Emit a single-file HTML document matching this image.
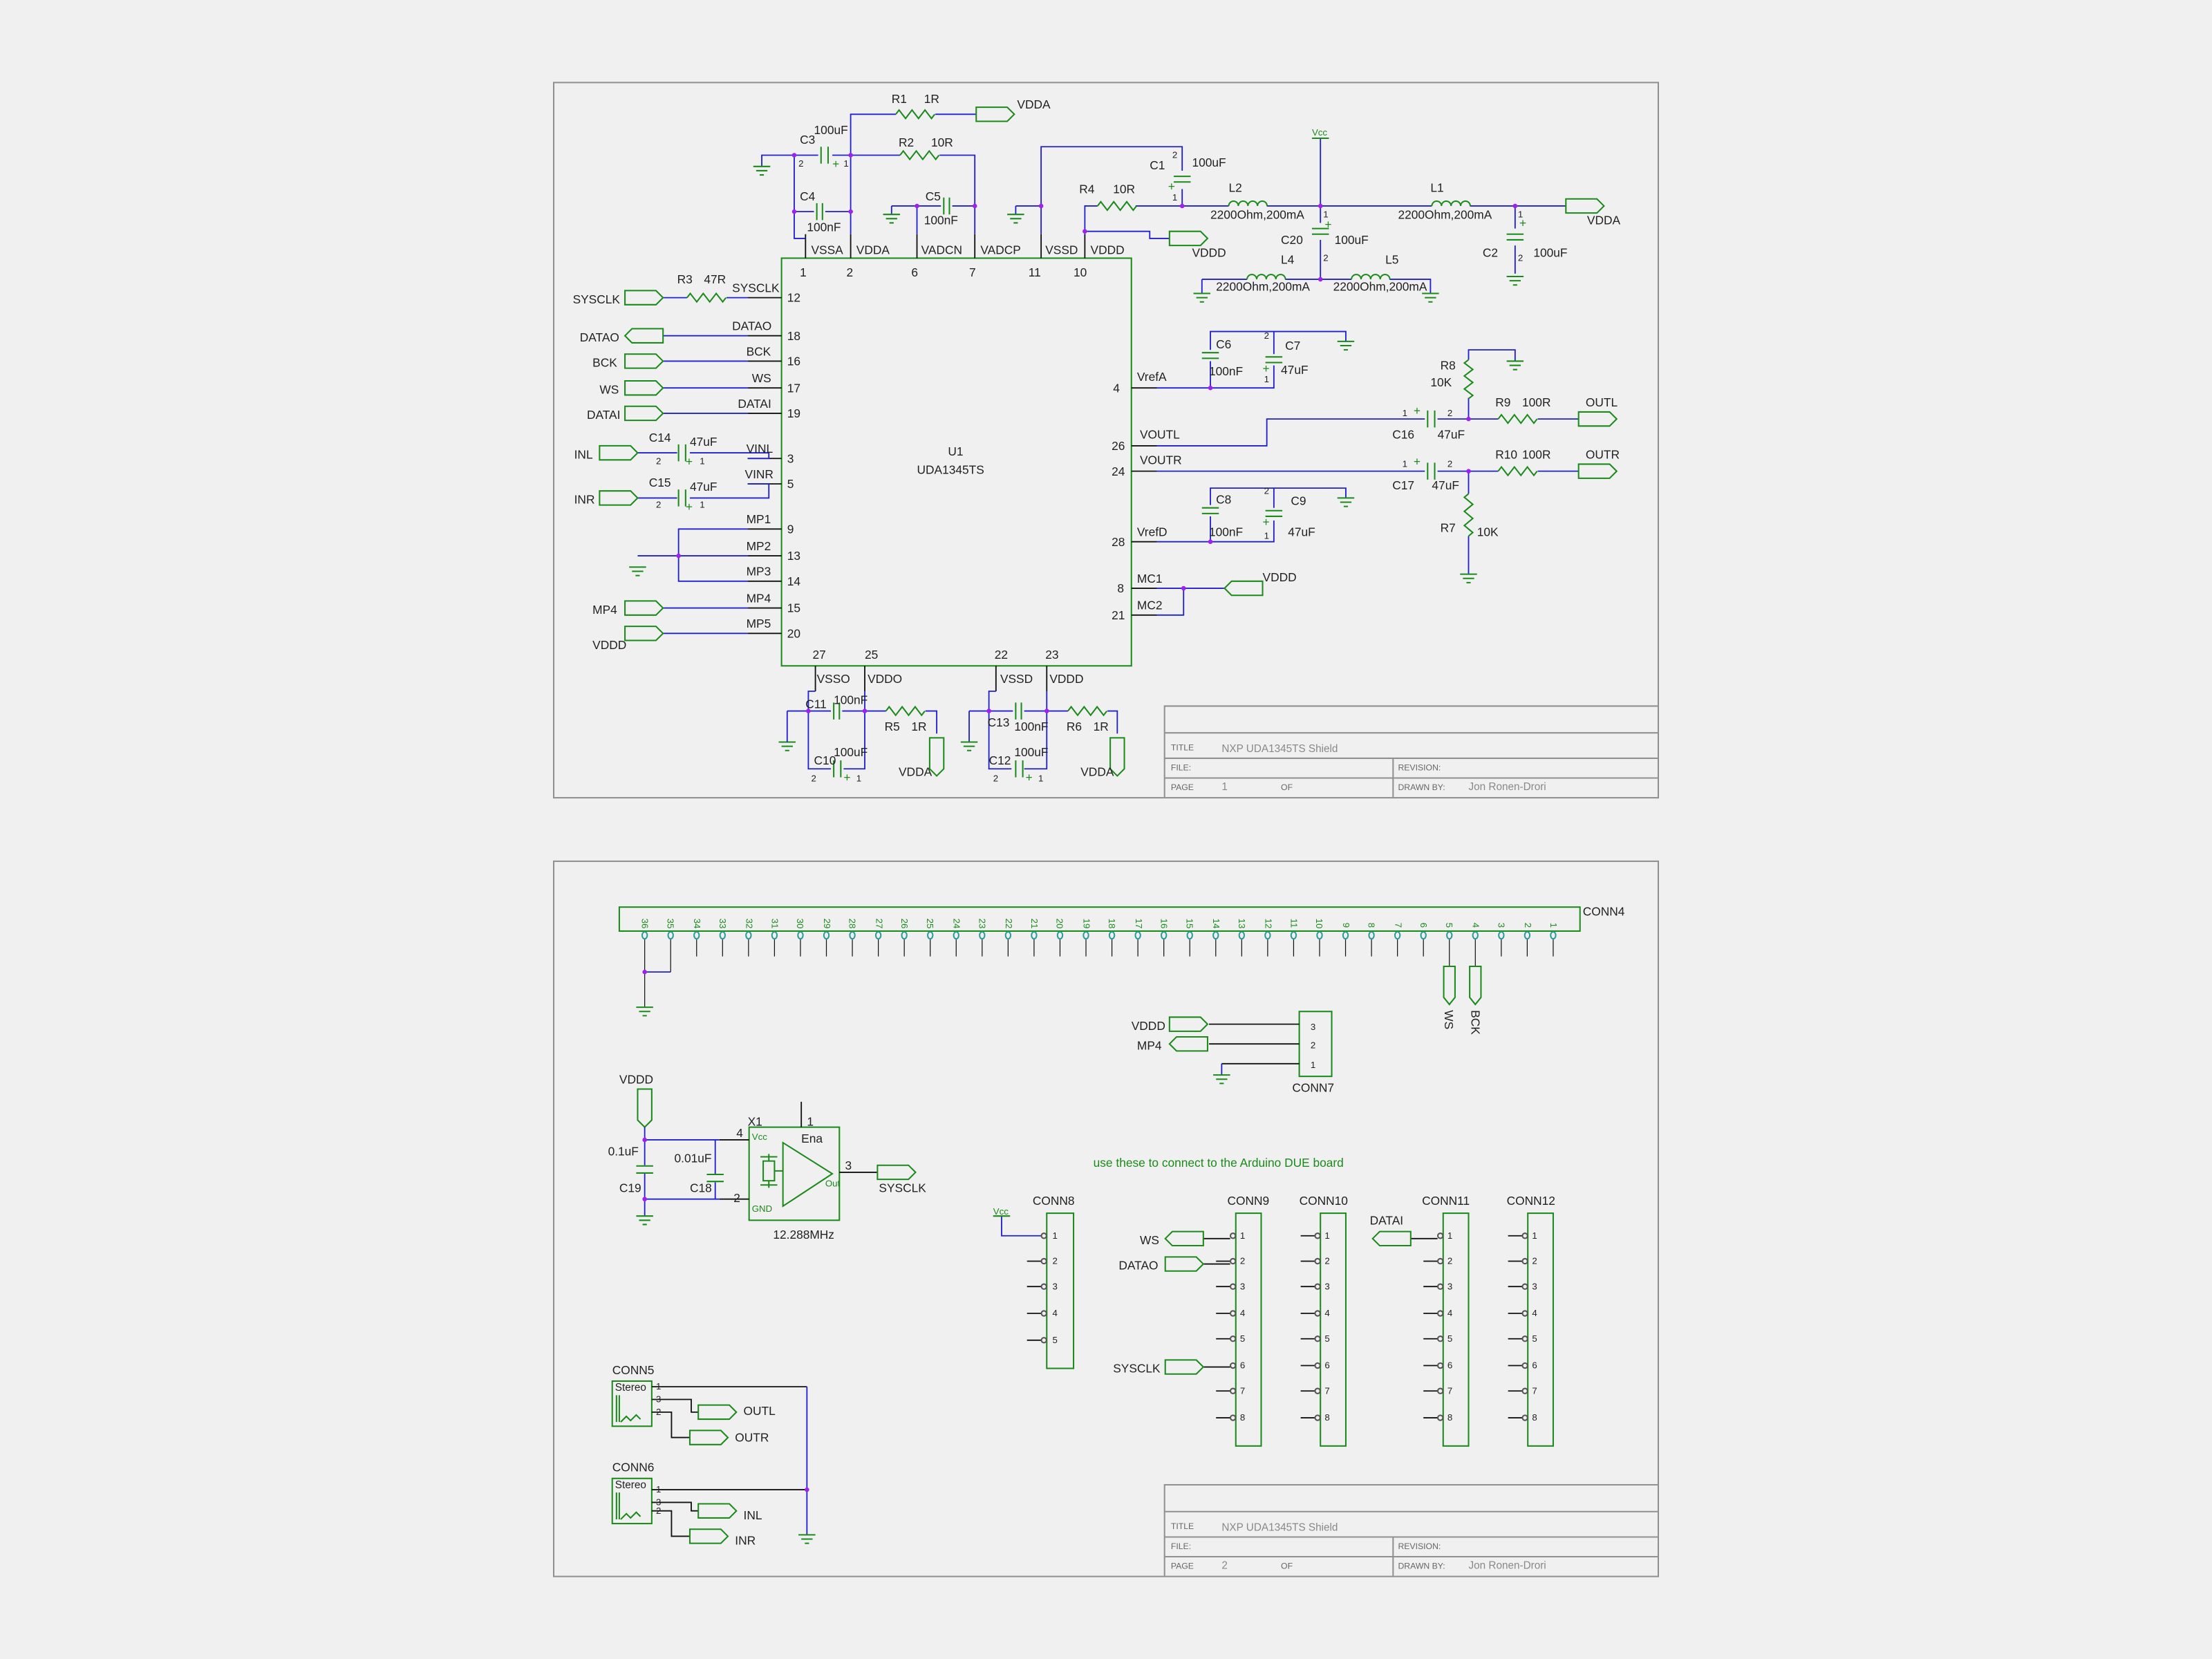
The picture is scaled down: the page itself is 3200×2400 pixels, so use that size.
<!DOCTYPE html>
<html><head><meta charset="utf-8"><style>
html,body{margin:0;padding:0;background:#f0f0f0;}
svg{display:block}
text{font-family:"Liberation Sans",sans-serif;font-size:8.5px;fill:#222}
.s{font-size:6.5px}
.g{fill:none;stroke:#1a8a1a;stroke-width:1}
.b{fill:none;stroke:#2020d0;stroke-width:0.9}
.k{fill:none;stroke:#111;stroke-width:0.9}
.f{fill:none;stroke:#909090;stroke-width:1}
.gt{fill:#1a8a1a}
.tb{fill:#888;font-size:7.5px}
.tl{fill:#666;font-size:6px}
</style></head><body>
<svg width="3200" height="2400" viewBox="0 0 1568 1176" xmlns="http://www.w3.org/2000/svg">
<rect width="1568" height="1176" fill="#f0f0f0"/>
<defs>
<path id="gnd" d="M-6 0h12M-4 3h8M-1.5 6h3" class="g"/>
<path id="rh" d="M0 0l2.3 -3l4.6 6l4.6 -6l4.6 6l4.6 -6l4.6 6l2.3 -3" class="g"/>
<path id="rv" d="M0 0l-3 2.3l6 4.6l-6 4.6l6 4.6l-6 4.6l6 4.6l-3 2.3" class="g"/>
<path id="lh" d="M0 0a3.4 3.4 0 0 1 6.8 0a3.4 3.4 0 0 1 6.8 0a3.4 3.4 0 0 1 6.8 0a3.4 3.4 0 0 1 6.8 0" class="g"/>
<path id="ch" d="M-2 -6v12M2 -6v12" class="g"/>
<path id="cv" d="M-6 -2h12M-6 2h12" class="g"/>
<path id="fr" d="M0 -5h22l5 5l-5 5h-22z" class="g"/>
<path id="fl" d="M5 -5h22v10h-22l-5 -5z" class="g"/>
<path id="fd" d="M-5 0v22l5 5l5 -5v-22z" class="g"/>
<circle id="d" r="1.6" fill="#a020f0"/>
</defs>

<!-- frames -->
<rect x="392.5" y="58.5" width="783" height="507" class="f"/>
<path d="M825.5 565V500.5H1175M825.5 519.5H1175M825.5 537.5H1175M825.5 551.5H1175M987.5 537.5V565" class="f"/>
<text x="830" y="532" class="tl">TITLE</text><text x="866" y="533" class="tb">NXP UDA1345TS Shield</text>
<text x="830" y="546" class="tl">FILE:</text><text x="991" y="546" class="tl">REVISION:</text>
<text x="830" y="560" class="tl">PAGE</text><text x="866" y="560" class="tb">1</text><text x="908" y="560" class="tl">OF</text>
<text x="991" y="560" class="tl">DRAWN BY:</text><text x="1041" y="560" class="tb">Jon Ronen-Drori</text>

<rect x="392.5" y="610.5" width="783" height="507" class="f"/>
<path d="M825.5 1117V1052.5H1175M825.5 1071.5H1175M825.5 1089.5H1175M825.5 1103.5H1175M987.5 1089.5V1117" class="f"/>
<text x="830" y="1084" class="tl">TITLE</text><text x="866" y="1085" class="tb">NXP UDA1345TS Shield</text>
<text x="830" y="1098" class="tl">FILE:</text><text x="991" y="1098" class="tl">REVISION:</text>
<text x="830" y="1112" class="tl">PAGE</text><text x="866" y="1112" class="tb">2</text><text x="908" y="1112" class="tl">OF</text>
<text x="991" y="1112" class="tl">DRAWN BY:</text><text x="1041" y="1112" class="tb">Jon Ronen-Drori</text>

<!-- U1 -->
<rect x="554" y="183" width="248" height="289" class="g"/>
<text x="672" y="323">U1</text><text x="650" y="336">UDA1345TS</text>
<!-- top pins -->
<path d="M571 166V183M603 166V183M650 166V183M691 166V183M738 166V183M769 166V183" class="k"/>
<text x="575" y="180">VSSA</text><text x="607" y="180">VDDA</text><text x="653" y="180">VADCN</text><text x="695" y="180">VADCP</text><text x="741" y="180">VSSD</text><text x="773" y="180">VDDD</text>
<text x="567" y="196">1</text><text x="600" y="196">2</text><text x="646" y="196">6</text><text x="687" y="196">7</text><text x="729" y="196">11</text><text x="761" y="196">10</text>
<!-- top nets -->
<path d="M603 166V81H635M663 81H692M563 110H540V118M563 110V169H571M563 110H580M590 110H638M666 110H691V166M563 150H577M585 150H603M632 146V152M632 146H667M675 146H691M650 146V166M720 146V152M720 146H738M738 166V104H838V121M838 134V146M769 166V146H778M805 146H871M898 146H1015M1042 146H1110M769 164H815V169H829M936 98V158M936 170V198M852 198V208M852 198H884M911 198H958M985 198H1014V208M1074 146V162M1074 174V194" class="b"/>
<use href="#gnd" x="540" y="118"/><use href="#gnd" x="632" y="152"/><use href="#gnd" x="720" y="152"/>
<use href="#gnd" x="852" y="208"/><use href="#gnd" x="1014" y="208"/><use href="#gnd" x="1074" y="196"/>
<use href="#rh" x="635" y="81"/><use href="#fr" x="692" y="81"/>
<text x="632" y="73">R1</text><text x="655" y="73">1R</text><text x="721" y="77">VDDA</text>
<path d="M582 104v12M587 104v12" class="g"/><text x="590" y="119" class="gt">+</text>
<text x="567" y="102">C3</text><text x="577" y="95">100uF</text><text x="566" y="118" class="s">2</text><text x="598" y="118" class="s">1</text>
<use href="#rh" x="638" y="110"/><text x="637" y="104">R2</text><text x="660" y="104">10R</text>
<use href="#ch" x="581" y="150"/><text x="567" y="142">C4</text><text x="572" y="164">100nF</text>
<use href="#ch" x="671" y="146"/><text x="656" y="142">C5</text><text x="655" y="159">100nF</text>
<use href="#cv" x="838" y="127"/><text x="828" y="135" class="gt">+</text>
<text x="815" y="120">C1</text><text x="845" y="118">100uF</text><text x="831" y="112" class="s">2</text><text x="831" y="142" class="s">1</text>
<use href="#rh" x="778" y="146"/><text x="765" y="137">R4</text><text x="789" y="137">10R</text>
<use href="#lh" x="871" y="146"/><text x="871" y="136">L2</text><text x="858" y="155">2200Ohm,200mA</text>
<use href="#lh" x="1015" y="146"/><text x="1014" y="136">L1</text><text x="991" y="155">2200Ohm,200mA</text>
<use href="#fr" x="1110" y="146"/><text x="1125" y="159">VDDA</text>
<use href="#fr" x="829" y="169"/><text x="845" y="182">VDDD</text>
<path d="M930 98h12" class="g"/><text x="930" y="96" class="s" style="fill:#1a8a1a">Vcc</text>
<use href="#cv" x="936" y="164"/><text x="939" y="162" class="gt">+</text>
<text x="908" y="173">C20</text><text x="946" y="173">100uF</text><text x="938" y="154" class="s">1</text><text x="938" y="185" class="s">2</text>
<use href="#lh" x="884" y="198"/><use href="#lh" x="958" y="198"/>
<text x="908" y="187">L4</text><text x="982" y="187">L5</text><text x="862" y="206">2200Ohm,200mA</text><text x="945" y="206">2200Ohm,200mA</text>
<use href="#cv" x="1074" y="168"/><text x="1077" y="161" class="gt">+</text>
<text x="1051" y="182">C2</text><text x="1087" y="182">100uF</text><text x="1076" y="154" class="s">1</text><text x="1076" y="185" class="s">2</text>
<use href="#d" x="563" y="110"/><use href="#d" x="603" y="110"/><use href="#d" x="563" y="150"/><use href="#d" x="603" y="150"/>
<use href="#d" x="650" y="146"/><use href="#d" x="691" y="146"/><use href="#d" x="738" y="146"/><use href="#d" x="769" y="164"/>
<use href="#d" x="838" y="146"/><use href="#d" x="936" y="146"/><use href="#d" x="936" y="198"/><use href="#d" x="1074" y="146"/>

<!-- left pins -->
<path d="M530 211H554M530 238H554M530 256H554M530 275H554M530 293H554M530 325H554M530 343H554M530 375H554M530 394H554M530 412H554M530 431H554M530 449H554" class="k"/>
<path d="M470 211H487M515 211H530M470 238H530M470 256H530M470 275H530M470 293H530M452 321H480M489 321H545V325H530M452 353H480M489 353H545V343H530M530 375H481V412H530M481 394H530M452 394H481V402M470 431H530M470 449H530" class="b"/>
<text x="519" y="207">SYSCLK</text><text x="519" y="234">DATAO</text><text x="529" y="252">BCK</text><text x="533" y="271">WS</text><text x="523" y="289">DATAI</text>
<text x="529" y="321">VINL</text><text x="528" y="339">VINR</text><text x="529" y="371">MP1</text><text x="529" y="390">MP2</text><text x="529" y="408">MP3</text><text x="529" y="427">MP4</text><text x="529" y="445">MP5</text>
<text x="558" y="214">12</text><text x="558" y="241">18</text><text x="558" y="259">16</text><text x="558" y="278">17</text><text x="558" y="296">19</text><text x="558" y="328">3</text><text x="558" y="346">5</text><text x="558" y="378">9</text><text x="558" y="397">13</text><text x="558" y="415">14</text><text x="558" y="434">15</text><text x="558" y="452">20</text>
<use href="#fr" x="443" y="211"/><text x="406" y="215">SYSCLK</text>
<use href="#rh" x="487" y="211"/><text x="480" y="201">R3</text><text x="499" y="201">47R</text>
<use href="#fl" x="443" y="238"/><text x="411" y="242">DATAO</text>
<use href="#fr" x="443" y="256"/><text x="420" y="260">BCK</text>
<use href="#fr" x="443" y="275"/><text x="425" y="279">WS</text>
<use href="#fr" x="443" y="293"/><text x="416" y="297">DATAI</text>
<use href="#fr" x="425" y="321"/><text x="407" y="325">INL</text>
<path d="M481 315v12M486 315v12" class="g"/><text x="486" y="330" class="gt">+</text>
<text x="460" y="313">C14</text><text x="489" y="316">47uF</text><text x="465" y="329" class="s">2</text><text x="496" y="329" class="s">1</text>
<use href="#fr" x="425" y="353"/><text x="407" y="357">INR</text>
<path d="M481 347v12M486 347v12" class="g"/><text x="486" y="362" class="gt">+</text>
<text x="460" y="345">C15</text><text x="489" y="348">47uF</text><text x="465" y="360" class="s">2</text><text x="496" y="360" class="s">1</text>
<use href="#gnd" x="452" y="402"/><use href="#d" x="481" y="394"/>
<use href="#fr" x="443" y="431"/><text x="420" y="435">MP4</text>
<use href="#fr" x="443" y="449"/><text x="420" y="460">VDDD</text>

<!-- right pins -->
<path d="M802 275H820M802 316H820M802 334H820M802 384H820M802 417H820M802 436H820" class="k"/>
<text x="806" y="270">VrefA</text><text x="808" y="311">VOUTL</text><text x="808" y="329">VOUTR</text><text x="806" y="380">VrefD</text><text x="806" y="413">MC1</text><text x="806" y="432">MC2</text>
<text x="789" y="278">4</text><text x="788" y="319">26</text><text x="788" y="337">24</text><text x="788" y="387">28</text><text x="792" y="420">8</text><text x="788" y="439">21</text>
<path d="M820 275H903V259M858 275V256M858 248V235H954V242M903 251V235M820 316H898V297H1010M1019 297H1062M1090 297H1119M1041 297V282M1041 255V248H1074V256M820 334H1010M1019 334H1062M1090 334H1119M1041 334V350M1041 380V407M820 384H903V369M858 384V366M858 358V346H954V353M903 360V346M820 417H868M839 417V436H820" class="b"/>
<use href="#cv" x="858" y="252"/><use href="#cv" x="903" y="255"/><text x="895" y="264" class="gt">+</text>
<text x="862" y="247">C6</text><text x="857" y="266">100nF</text><text x="911" y="248">C7</text><text x="908" y="265">47uF</text><text x="896" y="240" class="s">2</text><text x="896" y="271" class="s">1</text>
<use href="#gnd" x="954" y="242"/>
<path d="M1012 291v12M1017 291v12" class="g"/>
<text x="994" y="295" class="s">1</text><text x="1002" y="294" class="gt">+</text><text x="1026" y="295" class="s">2</text>
<text x="987" y="311">C16</text><text x="1019" y="311">47uF</text>
<use href="#rh" x="1062" y="297"/><text x="1060" y="288">R9</text><text x="1079" y="288">100R</text>
<use href="#fr" x="1119" y="297"/><text x="1124" y="288">OUTL</text>
<use href="#rv" x="1041" y="255"/><text x="1021" y="262">R8</text><text x="1014" y="274">10K</text><use href="#gnd" x="1074" y="256"/>
<path d="M1012 328v12M1017 328v12" class="g"/>
<text x="994" y="331" class="s">1</text><text x="1002" y="330" class="gt">+</text><text x="1026" y="331" class="s">2</text>
<text x="987" y="347">C17</text><text x="1015" y="347">47uF</text>
<use href="#rh" x="1062" y="334"/><text x="1060" y="325">R10</text><text x="1079" y="325">100R</text>
<use href="#fr" x="1119" y="334"/><text x="1124" y="325">OUTR</text>
<path d="M1041 350l-3 2.5l6 5l-6 5l6 5l-6 5l6 5l-3 2.5" class="g"/><text x="1021" y="377">R7</text><text x="1047" y="380">10K</text>
<use href="#gnd" x="1041" y="407"/>
<use href="#d" x="1041" y="297"/><use href="#d" x="1041" y="334"/><use href="#d" x="858" y="275"/><use href="#d" x="858" y="384"/>
<use href="#cv" x="858" y="362"/><use href="#cv" x="903" y="364"/><text x="895" y="373" class="gt">+</text>
<text x="862" y="357">C8</text><text x="857" y="380">100nF</text><text x="915" y="358">C9</text><text x="913" y="380">47uF</text><text x="896" y="350" class="s">2</text><text x="896" y="382" class="s">1</text>
<use href="#gnd" x="954" y="353"/>
<use href="#fl" x="868" y="417"/><text x="895" y="412">VDDD</text><use href="#d" x="839" y="417"/>

<!-- bottom pins -->
<path d="M578 472V490M613 472V490M706 472V490M742 472V490" class="k"/>
<text x="576" y="467">27</text><text x="613" y="467">25</text><text x="705" y="467">22</text><text x="741" y="467">23</text>
<text x="579" y="484">VSSO</text><text x="615" y="484">VDDO</text><text x="709" y="484">VSSD</text><text x="744" y="484">VDDD</text>
<path d="M578 490H573V545H589M598 545H613V490M558 504H589M597 504H628M656 504H664V520M558 504V514M706 490H701V545H717M726 545H742V490M687 504H718M726 504H757M785 504H792V520M687 504V514" class="b"/>
<use href="#gnd" x="558" y="526"/><path d="M558 514V526M687 514V526" class="b"/><use href="#gnd" x="687" y="526"/>
<use href="#ch" x="593" y="504"/><text x="571" y="502">C11</text><text x="591" y="499">100nF</text>
<path d="M591 539v12M596 539v12" class="g"/><text x="598" y="554" class="gt">+</text>
<text x="577" y="542">C10</text><text x="591" y="536">100uF</text><text x="575" y="554" class="s">2</text><text x="607" y="554" class="s">1</text>
<use href="#rh" x="628" y="504"/><text x="627" y="518">R5</text><text x="646" y="518">1R</text>
<use href="#fd" x="664" y="523"/><text x="637" y="550">VDDA</text>
<use href="#ch" x="722" y="504"/><text x="700" y="515">C13</text><text x="719" y="518">100nF</text>
<path d="M720 539v12M725 539v12" class="g"/><text x="727" y="554" class="gt">+</text>
<text x="701" y="542">C12</text><text x="719" y="536">100uF</text><text x="704" y="554" class="s">2</text><text x="736" y="554" class="s">1</text>
<use href="#rh" x="757" y="504"/><text x="756" y="518">R6</text><text x="775" y="518">1R</text>
<use href="#fd" x="792" y="523"/><text x="766" y="550">VDDA</text>
<use href="#d" x="573" y="504"/><use href="#d" x="613" y="504"/><use href="#d" x="701" y="504"/><use href="#d" x="742" y="504"/>

<!-- ===== PAGE 2 ===== -->
<rect x="439" y="643" width="681" height="17" class="g"/>
<text x="1122" y="649">CONN4</text>
<g class="g" style="stroke:#2a9a9a">
<ellipse cx="457" cy="663" rx="1.8" ry="2.5"/><ellipse cx="475.4" cy="663" rx="1.8" ry="2.5"/><ellipse cx="493.8" cy="663" rx="1.8" ry="2.5"/><ellipse cx="512.2" cy="663" rx="1.8" ry="2.5"/><ellipse cx="530.6" cy="663" rx="1.8" ry="2.5"/><ellipse cx="549" cy="663" rx="1.8" ry="2.5"/><ellipse cx="567.4" cy="663" rx="1.8" ry="2.5"/><ellipse cx="585.8" cy="663" rx="1.8" ry="2.5"/><ellipse cx="604.2" cy="663" rx="1.8" ry="2.5"/><ellipse cx="622.6" cy="663" rx="1.8" ry="2.5"/><ellipse cx="641" cy="663" rx="1.8" ry="2.5"/><ellipse cx="659.4" cy="663" rx="1.8" ry="2.5"/><ellipse cx="677.8" cy="663" rx="1.8" ry="2.5"/><ellipse cx="696.2" cy="663" rx="1.8" ry="2.5"/><ellipse cx="714.6" cy="663" rx="1.8" ry="2.5"/><ellipse cx="733" cy="663" rx="1.8" ry="2.5"/><ellipse cx="751.4" cy="663" rx="1.8" ry="2.5"/><ellipse cx="769.8" cy="663" rx="1.8" ry="2.5"/><ellipse cx="788.2" cy="663" rx="1.8" ry="2.5"/><ellipse cx="806.6" cy="663" rx="1.8" ry="2.5"/><ellipse cx="825" cy="663" rx="1.8" ry="2.5"/><ellipse cx="843.4" cy="663" rx="1.8" ry="2.5"/><ellipse cx="861.8" cy="663" rx="1.8" ry="2.5"/><ellipse cx="880.2" cy="663" rx="1.8" ry="2.5"/><ellipse cx="898.6" cy="663" rx="1.8" ry="2.5"/><ellipse cx="917" cy="663" rx="1.8" ry="2.5"/><ellipse cx="935.4" cy="663" rx="1.8" ry="2.5"/><ellipse cx="953.8" cy="663" rx="1.8" ry="2.5"/><ellipse cx="972.2" cy="663" rx="1.8" ry="2.5"/><ellipse cx="990.6" cy="663" rx="1.8" ry="2.5"/><ellipse cx="1009" cy="663" rx="1.8" ry="2.5"/><ellipse cx="1027.4" cy="663" rx="1.8" ry="2.5"/><ellipse cx="1045.8" cy="663" rx="1.8" ry="2.5"/><ellipse cx="1064.2" cy="663" rx="1.8" ry="2.5"/><ellipse cx="1082.6" cy="663" rx="1.8" ry="2.5"/><ellipse cx="1101" cy="663" rx="1.8" ry="2.5"/>
</g>
<path class="k" style="stroke-width:0.6" d="M493.8 666V678M512.2 666V678M530.6 666V678M549 666V678M567.4 666V678M585.8 666V678M604.2 666V678M622.6 666V678M641 666V678M659.4 666V678M677.8 666V678M696.2 666V678M714.6 666V678M733 666V678M751.4 666V678M769.8 666V678M788.2 666V678M806.6 666V678M825 666V678M843.4 666V678M861.8 666V678M880.2 666V678M898.6 666V678M917 666V678M935.4 666V678M953.8 666V678M972.2 666V678M990.6 666V678M1009 666V678M1064.2 666V678M1082.6 666V678M1101 666V678M457 666V714M475.4 666V689M1027.4 666V685M1045.8 666V685"/>
<path class="b" d="M457 689H475.4"/><use href="#d" x="457" y="689"/><use href="#gnd" x="457" y="714"/>
<g transform="translate(0,0)">
<text transform="translate(455,651) rotate(90)" class="s" style="fill:#1a8a1a">36</text><text transform="translate(473,651) rotate(90)" class="s" style="fill:#1a8a1a">35</text><text transform="translate(492,651) rotate(90)" class="s" style="fill:#1a8a1a">34</text><text transform="translate(510,651) rotate(90)" class="s" style="fill:#1a8a1a">33</text><text transform="translate(529,651) rotate(90)" class="s" style="fill:#1a8a1a">32</text><text transform="translate(547,651) rotate(90)" class="s" style="fill:#1a8a1a">31</text><text transform="translate(565,651) rotate(90)" class="s" style="fill:#1a8a1a">30</text><text transform="translate(584,651) rotate(90)" class="s" style="fill:#1a8a1a">29</text><text transform="translate(602,651) rotate(90)" class="s" style="fill:#1a8a1a">28</text><text transform="translate(621,651) rotate(90)" class="s" style="fill:#1a8a1a">27</text><text transform="translate(639,651) rotate(90)" class="s" style="fill:#1a8a1a">26</text><text transform="translate(657,651) rotate(90)" class="s" style="fill:#1a8a1a">25</text><text transform="translate(676,651) rotate(90)" class="s" style="fill:#1a8a1a">24</text><text transform="translate(694,651) rotate(90)" class="s" style="fill:#1a8a1a">23</text><text transform="translate(713,651) rotate(90)" class="s" style="fill:#1a8a1a">22</text><text transform="translate(731,651) rotate(90)" class="s" style="fill:#1a8a1a">21</text><text transform="translate(749,651) rotate(90)" class="s" style="fill:#1a8a1a">20</text><text transform="translate(768,651) rotate(90)" class="s" style="fill:#1a8a1a">19</text><text transform="translate(786,651) rotate(90)" class="s" style="fill:#1a8a1a">18</text><text transform="translate(805,651) rotate(90)" class="s" style="fill:#1a8a1a">17</text><text transform="translate(823,651) rotate(90)" class="s" style="fill:#1a8a1a">16</text><text transform="translate(841,651) rotate(90)" class="s" style="fill:#1a8a1a">15</text><text transform="translate(860,651) rotate(90)" class="s" style="fill:#1a8a1a">14</text><text transform="translate(878,651) rotate(90)" class="s" style="fill:#1a8a1a">13</text><text transform="translate(897,651) rotate(90)" class="s" style="fill:#1a8a1a">12</text><text transform="translate(915,651) rotate(90)" class="s" style="fill:#1a8a1a">11</text><text transform="translate(933,651) rotate(90)" class="s" style="fill:#1a8a1a">10</text><text transform="translate(952,654) rotate(90)" class="s" style="fill:#1a8a1a">9</text><text transform="translate(970,654) rotate(90)" class="s" style="fill:#1a8a1a">8</text><text transform="translate(989,654) rotate(90)" class="s" style="fill:#1a8a1a">7</text><text transform="translate(1007,654) rotate(90)" class="s" style="fill:#1a8a1a">6</text><text transform="translate(1025,654) rotate(90)" class="s" style="fill:#1a8a1a">5</text><text transform="translate(1044,654) rotate(90)" class="s" style="fill:#1a8a1a">4</text><text transform="translate(1062,654) rotate(90)" class="s" style="fill:#1a8a1a">3</text><text transform="translate(1081,654) rotate(90)" class="s" style="fill:#1a8a1a">2</text><text transform="translate(1099,654) rotate(90)" class="s" style="fill:#1a8a1a">1</text>
</g>
<path class="g" d="M1023.4 685h8v22l-4 5l-4 -5zM1041.8 685h8v22l-4 5l-4 -5z"/>
<text transform="translate(1024,716) rotate(90)">WS</text><text transform="translate(1043,716) rotate(90)">BCK</text>

<!-- CONN7 -->
<rect x="921" y="717" width="23" height="46" class="g"/>
<text x="929" y="730" class="s">3</text><text x="929" y="743" class="s">2</text><text x="929" y="757" class="s">1</text>
<path class="k" d="M857 726H921M857 740H921M866 754H921"/><path class="b" d="M866 754V762"/>
<use href="#fr" x="829" y="726"/><text x="802" y="730">VDDD</text>
<use href="#fl" x="829" y="740"/><text x="806" y="744">MP4</text>
<use href="#gnd" x="866" y="762"/><text x="916" y="774">CONN7</text>

<!-- X1 oscillator -->
<rect x="531" y="799" width="64" height="66" class="g"/>
<path class="g" d="M555 810L590 832L555 855zM541 823h8v14h-8zM545 818v5M545 837v5M539 820h12M539 840h12M549 830h6"/>
<text x="533" y="808" class="s" style="fill:#1a8a1a">Vcc</text><text x="533" y="859" class="s" style="fill:#1a8a1a">GND</text>
<text x="568" y="810">Ena</text><text x="585" y="841" class="s" style="fill:#1a8a1a">Out</text>
<path class="k" d="M568 781V799M595 831H622M510 808H531M510 850H531"/>
<text x="530" y="798">X1</text><text x="572" y="798">1</text><text x="522" y="806">4</text><text x="520" y="852">2</text><text x="599" y="829">3</text>
<text x="548" y="878">12.288MHz</text>
<use href="#fr" x="622" y="831"/><text x="623" y="845">SYSCLK</text>
<use href="#fd" x="457" y="772"/><text x="439" y="768">VDDD</text>
<path class="b" d="M457 799V826M457 832V862M457 808H510M457 850H510M507 808V832M507 838V850"/>
<path class="g" d="M451 826.5h12M451 831.5h12M501 832.5h12M501 837.5h12"/>
<use href="#gnd" x="457" y="862"/><use href="#d" x="457" y="808"/><use href="#d" x="457" y="850"/>
<text x="431" y="819">0.1uF</text><text x="439" y="845">C19</text><text x="478" y="824">0.01uF</text><text x="489" y="845">C18</text>

<text x="775" y="827" style="fill:#1a8a1a">use these to connect to the Arduino DUE board</text>

<!-- CONN8 -->
<rect x="742" y="860" width="19" height="110" class="g"/><text x="732" y="854">CONN8</text>
<path class="k" d="M728 894H738M728 912H738M728 931H738M728 950H738"/>
<path class="b" d="M710 862V876H738"/><path class="g" d="M704 862h12"/><text x="704" y="861" class="s" style="fill:#1a8a1a">Vcc</text>
<g class="g" style="stroke:#555"><circle cx="740" cy="876" r="1.8"/><circle cx="740" cy="894" r="1.8"/><circle cx="740" cy="912" r="1.8"/><circle cx="740" cy="931" r="1.8"/><circle cx="740" cy="950" r="1.8"/></g>
<g class="s"><text x="746" y="878" class="s">1</text><text x="746" y="896" class="s">2</text><text x="746" y="914" class="s">3</text><text x="746" y="933" class="s">4</text><text x="746" y="952" class="s">5</text></g>

<!-- CONN9-12 -->
<rect x="876" y="860" width="18" height="165" class="g"/><text x="870" y="854">CONN9</text>
<rect x="936" y="860" width="18" height="165" class="g"/><text x="921" y="854">CONN10</text>
<rect x="1023" y="860" width="18" height="165" class="g"/><text x="1008" y="854">CONN11</text>
<rect x="1083" y="860" width="18" height="165" class="g"/><text x="1068" y="854">CONN12</text>
<path class="k" d="M862 894H872M862 912H872M862 931H872M862 949H872M862 986H872M862 1005H872M922 876H932M922 894H932M922 912H932M922 931H932M922 949H932M922 968H932M922 986H932M922 1005H932M1009 894H1019M1009 912H1019M1009 931H1019M1009 949H1019M1009 968H1019M1009 986H1019M1009 1005H1019M1069 876H1079M1069 894H1079M1069 912H1079M1069 931H1079M1069 949H1079M1069 968H1079M1069 986H1079M1069 1005H1079M853 878H872M853 896H872M853 969H872M1000 878H1019"/>
<g class="g" style="stroke:#555">
<circle cx="874" cy="876" r="1.8"/><circle cx="874" cy="894" r="1.8"/><circle cx="874" cy="912" r="1.8"/><circle cx="874" cy="931" r="1.8"/><circle cx="874" cy="949" r="1.8"/><circle cx="874" cy="968" r="1.8"/><circle cx="874" cy="986" r="1.8"/><circle cx="874" cy="1005" r="1.8"/>
<circle cx="934" cy="876" r="1.8"/><circle cx="934" cy="894" r="1.8"/><circle cx="934" cy="912" r="1.8"/><circle cx="934" cy="931" r="1.8"/><circle cx="934" cy="949" r="1.8"/><circle cx="934" cy="968" r="1.8"/><circle cx="934" cy="986" r="1.8"/><circle cx="934" cy="1005" r="1.8"/>
<circle cx="1021" cy="876" r="1.8"/><circle cx="1021" cy="894" r="1.8"/><circle cx="1021" cy="912" r="1.8"/><circle cx="1021" cy="931" r="1.8"/><circle cx="1021" cy="949" r="1.8"/><circle cx="1021" cy="968" r="1.8"/><circle cx="1021" cy="986" r="1.8"/><circle cx="1021" cy="1005" r="1.8"/>
<circle cx="1081" cy="876" r="1.8"/><circle cx="1081" cy="894" r="1.8"/><circle cx="1081" cy="912" r="1.8"/><circle cx="1081" cy="931" r="1.8"/><circle cx="1081" cy="949" r="1.8"/><circle cx="1081" cy="968" r="1.8"/><circle cx="1081" cy="986" r="1.8"/><circle cx="1081" cy="1005" r="1.8"/>
</g>
<text x="879" y="878" class="s">1</text><text x="879" y="896" class="s">2</text><text x="879" y="914" class="s">3</text><text x="879" y="933" class="s">4</text><text x="879" y="951" class="s">5</text><text x="879" y="970" class="s">6</text><text x="879" y="988" class="s">7</text><text x="879" y="1007" class="s">8</text>
<text x="939" y="878" class="s">1</text><text x="939" y="896" class="s">2</text><text x="939" y="914" class="s">3</text><text x="939" y="933" class="s">4</text><text x="939" y="951" class="s">5</text><text x="939" y="970" class="s">6</text><text x="939" y="988" class="s">7</text><text x="939" y="1007" class="s">8</text>
<text x="1026" y="878" class="s">1</text><text x="1026" y="896" class="s">2</text><text x="1026" y="914" class="s">3</text><text x="1026" y="933" class="s">4</text><text x="1026" y="951" class="s">5</text><text x="1026" y="970" class="s">6</text><text x="1026" y="988" class="s">7</text><text x="1026" y="1007" class="s">8</text>
<text x="1086" y="878" class="s">1</text><text x="1086" y="896" class="s">2</text><text x="1086" y="914" class="s">3</text><text x="1086" y="933" class="s">4</text><text x="1086" y="951" class="s">5</text><text x="1086" y="970" class="s">6</text><text x="1086" y="988" class="s">7</text><text x="1086" y="1007" class="s">8</text>
<use href="#fl" x="826" y="878"/><text x="808" y="882">WS</text>
<use href="#fr" x="826" y="896"/><text x="793" y="900">DATAO</text>
<use href="#fr" x="826" y="969"/><text x="789" y="973">SYSCLK</text>
<use href="#fl" x="973" y="878"/><text x="971" y="868">DATAI</text>

<!-- CONN5 / CONN6 -->
<rect x="434" y="979" width="28" height="32" class="g"/><text x="434" y="974">CONN5</text>
<text x="436" y="986" class="s" style="font-size:7.5px">Stereo</text>
<path class="g" d="M437 989v19M439 989v19M440 1008l4 -4l3 3l4 -4l3 3"/>
<path class="k" d="M462 983H572M462 992H490V1001H495M462 1001H476V1019H489"/>
<text x="465" y="985" class="s">1</text><text x="465" y="994" class="s">3</text><text x="465" y="1003" class="s">2</text>
<use href="#fr" x="495" y="1001"/><text x="527" y="1003">OUTL</text>
<use href="#fr" x="489" y="1019"/><text x="521" y="1022">OUTR</text>
<rect x="434" y="1048" width="28" height="32" class="g"/><text x="434" y="1043">CONN6</text>
<text x="436" y="1055" class="s" style="font-size:7.5px">Stereo</text>
<path class="g" d="M437 1058v19M439 1058v19M440 1077l4 -4l3 3l4 -4l3 3"/>
<path class="k" d="M462 1056H572M462 1065H490V1071H495M462 1071H476V1089H489"/>
<text x="465" y="1058" class="s">1</text><text x="465" y="1067" class="s">3</text><text x="465" y="1073" class="s">2</text>
<use href="#fr" x="495" y="1071"/><text x="527" y="1077">INL</text>
<use href="#fr" x="489" y="1089"/><text x="521" y="1095">INR</text>
<path class="b" d="M572 983V1088"/><use href="#d" x="572" y="1056"/><use href="#gnd" x="572" y="1088"/>
</svg>
</body></html>
